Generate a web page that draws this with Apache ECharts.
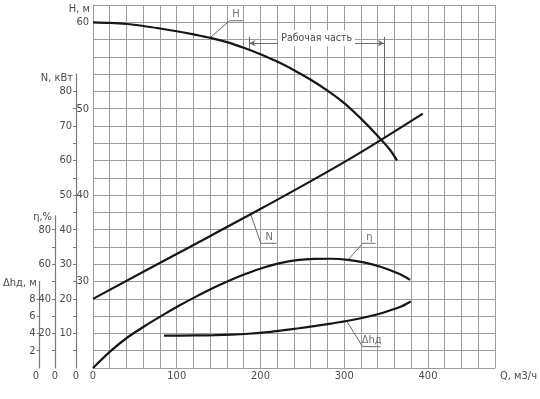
<!DOCTYPE html>
<html><head><meta charset="utf-8">
<script src="https://cdn.jsdelivr.net/npm/echarts@6/dist/echarts.min.js"></script>
<style>html,body{margin:0;padding:0;background:#fff}#c{width:540px;height:399px}</style>
</head><body><div id="c"></div>
<script>
// ---- data ----
const qH   = [0,20,40,60,80,100,120,140,160,180,200,220,240,260,280,300,320,340,355,363];
const headH = [60.0,59.93,59.8,59.57,59.28,58.96,58.6,58.2,57.7,57.05,56.3,55.45,54.45,53.35,52.1,50.65,48.85,46.85,45.2,44.0];
const qN   = [0,100,200,300,388];
const powerN = [20,33.2,46.4,60.2,73.6];
const qEta = [0,20,40,60,80,100,120,140,160,180,200,220,240,260,280,300,320,340,360,373];
const eta  = [0,9.5,17.5,24,30,35.7,41,46,50.5,54.5,58,60.7,62.4,63.1,63.2,62.6,61,58.3,54.5,51];
const qDh  = [80,100,120,140,160,180,200,220,240,260,280,300,320,340,360,373];
const dh   = [3.75,3.75,3.77,3.8,3.86,3.96,4.12,4.35,4.6,4.87,5.17,5.5,5.9,6.4,7.05,7.7];
const qTicks = [0,100,200,300,400];
const hLabels = [30,40,50,60];
const nLabels = [10,20,30,40,50,60,70,80];
const etaLabels = [20,40,60,80];
const dhLabels = [2,4,6,8];
// annotation anchors (Q, H)
const hLeader   = [[139.6,58.2],[163.2,60.18],[178.8,60.18]];
const nLeader   = [[187.9,37.9],[200.4,34.43],[219.2,34.43]];
const etaLeader = [[304.4,32.5],[322,34.43],[337.6,34.43]];
const dhLeader  = [[302.4,25.5],[322,22.47],[343.5,22.47]];
const textMarks = [
  {pos:[170.8,60.18], text:'H'},
  {pos:[210.5,34.43], text:'N'},
  {pos:[330,34.43], text:'η'},
  {pos:[332.8,22.47], text:'Δhд'}
];
const workStart = 186.7, workEnd = 347.4, workLevel = 57.57;

// ---- layout ----
const FONT = "'DejaVu Sans Condensed','Liberation Sans Narrow','DejaVu Sans',sans-serif";
const TXT = '#4a4a4a', GRID = '#9c9c9c', CURVE = '#161616', THIN = '#6a6a6a', AX = '#7a7a7a';
const L = 93, W = 408, B = 368, HFULL = 363;
const hMin = 20, hMax = 62;
const pxPerH = HFULL / (hMax - hMin);
const axes = [
  {name:'N, кВт', max:85, pxPer: pxPerH*0.4, offset:17, tickStep:5, labels:nLabels, gap:-4},
  {name:'η,%',    max:88, pxPer: pxPerH*0.2, offset:38, tickStep:10, labels:etaLabels, gap:-1},
  {name:'Δhд, м', max:10, pxPer: pxPerH,     offset:57, tickStep:2, labels:dhLabels, gap:-2}
];
const zip = (a,b) => a.map((v,i)=>[v,b[i]]);
const tickVals = (step,max) => { const r=[]; for(let v=step; v<max-0.01; v+=step) r.push(v); return r; };

const grids = [{left:L, width:W, top:B-HFULL, height:HFULL}];
axes.forEach(a => { const h = a.max*a.pxPer; grids.push({left:L, width:W, top:B-h, height:h}); });

const xAxes = grids.map((g,i)=>({
  type:'value', gridIndex:i, min:0, max:480, interval:20,
  show: i===0,
  axisLine:{show:true, onZero:false, lineStyle:{color:GRID,width:1}},
  axisTick:{show:false},
  splitLine:{show:i===0, lineStyle:{color:GRID,width:1}},
  axisLabel:{show:i===0, margin:3, color:TXT, fontFamily:FONT, fontSize:11,
    formatter: v => qTicks.includes(v) ? String(v) : ''},
  name: i===0 ? 'Q, м3/ч' : '', nameLocation:'end', nameGap:5,
  nameTextStyle:{color:TXT, fontFamily:FONT, fontSize:11, align:'left', verticalAlign:'top', padding:[3,0,0,0]}
}));

const yAxes = [{
  type:'value', gridIndex:0, min:hMin, max:hMax, interval:2,
  axisLine:{show:true, onZero:false, lineStyle:{color:GRID,width:1}},
  axisTick:{show:false},
  splitLine:{show:true, lineStyle:{color:GRID,width:1}},
  axisLabel:{margin:4, color:TXT, fontFamily:FONT, fontSize:11,
    formatter: v => hLabels.includes(v) ? String(v) : ''},
  name:'H, м', nameLocation:'end', nameGap:-4,
  nameTextStyle:{color:TXT, fontFamily:FONT, fontSize:11, align:'right', verticalAlign:'middle', padding:[0,3,0,0]}
}];
axes.forEach((a,i)=>{
  yAxes.push({
    type:'value', gridIndex:i+1, position:'left', min:0, max:a.max, interval:a.tickStep, offset:a.offset,
    axisLine:{show:true, onZero:false, lineStyle:{color:AX,width:1.2}},
    axisTick:{show:true, length:3, lineStyle:{color:AX}, customValues: tickVals(a.tickStep,a.max)},
    splitLine:{show:false},
    axisLabel:{margin:4, color:TXT, fontFamily:FONT, fontSize:11,
      formatter: v => a.labels.includes(v) ? String(v) : ''},
    name:a.name, nameLocation:'end', nameGap:a.gap,
    nameTextStyle:{color:TXT, fontFamily:FONT, fontSize:11, align:'right', verticalAlign:'middle', padding:[0,3,0,0]}
  });
});

const curve = (data,xi,yi) => ({
  type:'line', xAxisIndex:xi, yAxisIndex:yi, data, smooth:0.35, symbol:'none', silent:true,
  lineStyle:{color:CURVE, width:2.2}, z:5
});
const leader = data => ({
  type:'line', xAxisIndex:0, yAxisIndex:0, data, symbol:'none', silent:true,
  lineStyle:{color:THIN, width:1}, z:4
});

const series = [
  curve(zip(qH,headH),0,0),
  curve(zip(qN,powerN),1,1),
  curve(zip(qEta,eta),2,2),
  curve(zip(qDh,dh),3,3),
  leader(hLeader), leader(nLeader), leader(etaLeader), leader(dhLeader),
  {
    type:'scatter', xAxisIndex:0, yAxisIndex:0, symbolSize:0, silent:true,
    data: textMarks.map(t=>({value:t.pos, name:t.text})),
    label:{show:true, position:'top', distance:1, formatter: p=>p.name, color:TXT, fontFamily:FONT, fontSize:11}
  },
  {
    type:'line', xAxisIndex:0, yAxisIndex:0, data:[], silent:true,
    markLine:{
      silent:true, symbol:['arrow','arrow'], symbolSize:[5,6],
      lineStyle:{color:THIN, width:1, type:'solid'},
      label:{show:true, position:'middle', formatter:'Рабочая часть', distance:-3,
        color:TXT, fontFamily:FONT, fontSize:10.5, backgroundColor:'#fff', padding:[2,3,3,3]},
      data:[[{coord:[workStart,workLevel]},{coord:[workEnd,workLevel]}]]
    }
  },
  {
    type:'line', xAxisIndex:0, yAxisIndex:0, data:[], silent:true,
    markLine:{
      silent:true, symbol:['none','none'],
      lineStyle:{color:THIN, width:1, type:'solid'},
      label:{show:false},
      data:[
        [{coord:[workStart,58.3]},{coord:[workStart,56.9]}],
        [{coord:[workEnd,58.3]},{coord:[workEnd,46.7]}]
      ]
    }
  }
];

const graphic = axes.map(a=>({
  type:'text', x:L-a.offset, y:B+8, silent:true,
  style:{text:'0', fill:TXT, font:'11px '+FONT, align:'center', verticalAlign:'middle'}
}));

const chart = echarts.init(document.getElementById('c'), null, {renderer:'canvas'});
chart.setOption({
  animation:false,
  backgroundColor:'#fff',
  grid:grids, xAxis:xAxes, yAxis:yAxes, series, graphic
});
</script></body></html>
